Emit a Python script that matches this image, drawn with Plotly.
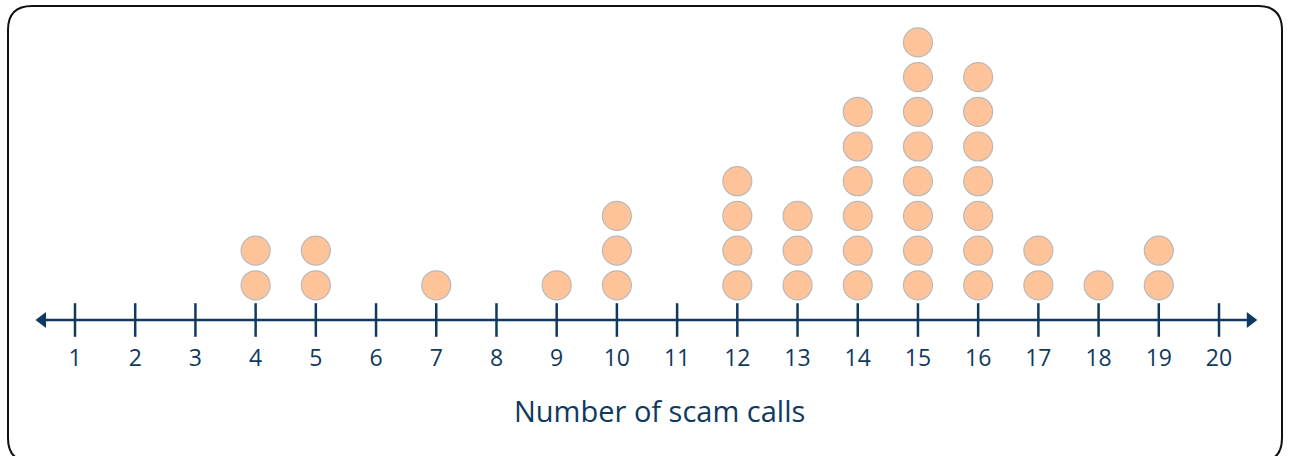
import plotly.graph_objects as go

# Data
values = [4, 5, 7, 9, 10, 12, 13, 14, 15, 16, 17, 18, 19]
counts = [2, 2, 1, 1, 3, 4, 3, 6, 8, 7, 2, 1, 2]
tick_values = list(range(1, 21))
tick_labels = [str(v) for v in tick_values]
x_title = "Number of scam calls"

W, H = 1289, 456
NAVY = "#0f3a5f"
FONT = "Open Sans, Lato, sans-serif"

dot_x, dot_y = [], []
for v, c in zip(values, counts):
    for k in range(1, c + 1):
        dot_x.append(v)
        dot_y.append(k)

fig = go.Figure()

# axis line
fig.add_trace(go.Scatter(x=[0.40, 20.57], y=[0, 0], mode="lines",
                         line=dict(color=NAVY, width=2.5), hoverinfo="skip"))
# arrowheads
fig.add_trace(go.Scatter(x=[0.46], y=[0], mode="markers",
                         marker=dict(symbol="triangle-left", size=14, color=NAVY, line=dict(width=0))))
fig.add_trace(go.Scatter(x=[20.52], y=[0], mode="markers",
                         marker=dict(symbol="triangle-right", size=14, color=NAVY, line=dict(width=0))))
# ticks
fig.add_trace(go.Scatter(x=tick_values, y=[0] * len(tick_values), mode="markers",
                         marker=dict(symbol="line-ns", size=24, line=dict(color=NAVY, width=2.5))))
# tick labels
fig.add_trace(go.Scatter(x=tick_values, y=[-1.15] * len(tick_values), mode="text",
                         text=tick_labels, textposition="middle center",
                         textfont=dict(family=FONT, size=23, color=NAVY)))
# dots
fig.add_trace(go.Scatter(x=dot_x, y=dot_y, mode="markers",
                         marker=dict(symbol="circle", size=29, color="#ffc39a",
                                     line=dict(color="#b9b9b9", width=1.2))))

# rounded frame (paper coords)
def px(x):
    return x / W

def py(y):
    return 1 - y / H

L, T, R, B, r = 8, 6, 1282, 462, 24
path = (f"M {px(L + r)} {py(T)} L {px(R - r)} {py(T)} Q {px(R)} {py(T)} {px(R)} {py(T + r)} "
        f"L {px(R)} {py(B - r)} Q {px(R)} {py(B)} {px(R - r)} {py(B)} "
        f"L {px(L + r)} {py(B)} Q {px(L)} {py(B)} {px(L)} {py(B - r)} "
        f"L {px(L)} {py(T + r)} Q {px(L)} {py(T)} {px(L + r)} {py(T)} Z")
fig.add_shape(type="path", path=path, xref="paper", yref="paper",
              line=dict(color="#111111", width=2))

fig.add_annotation(x=660 / W, y=py(410), xref="paper", yref="paper",
                   xanchor="center", yanchor="middle",
                   text=x_title, showarrow=False,
                   font=dict(family=FONT, size=29, color=NAVY))

ppu_x = (1219 - 75) / 19
x0 = 1 - 75 / ppu_x
x1 = x0 + W / ppu_x
ppu_y = 34.7
y_top = 320 / ppu_y
y_bot = -(H - 320) / ppu_y

fig.update_layout(
    width=W, height=H, margin=dict(l=0, r=0, t=0, b=0),
    paper_bgcolor="white", plot_bgcolor="white", showlegend=False,
    xaxis=dict(range=[x0, x1], visible=False, fixedrange=True),
    yaxis=dict(range=[y_bot, y_top], visible=False, fixedrange=True),
)

fig.write_html("out.html", config={"displayModeBar": False},
               post_script="document.body.style.margin='0';document.body.style.overflow='hidden';")
